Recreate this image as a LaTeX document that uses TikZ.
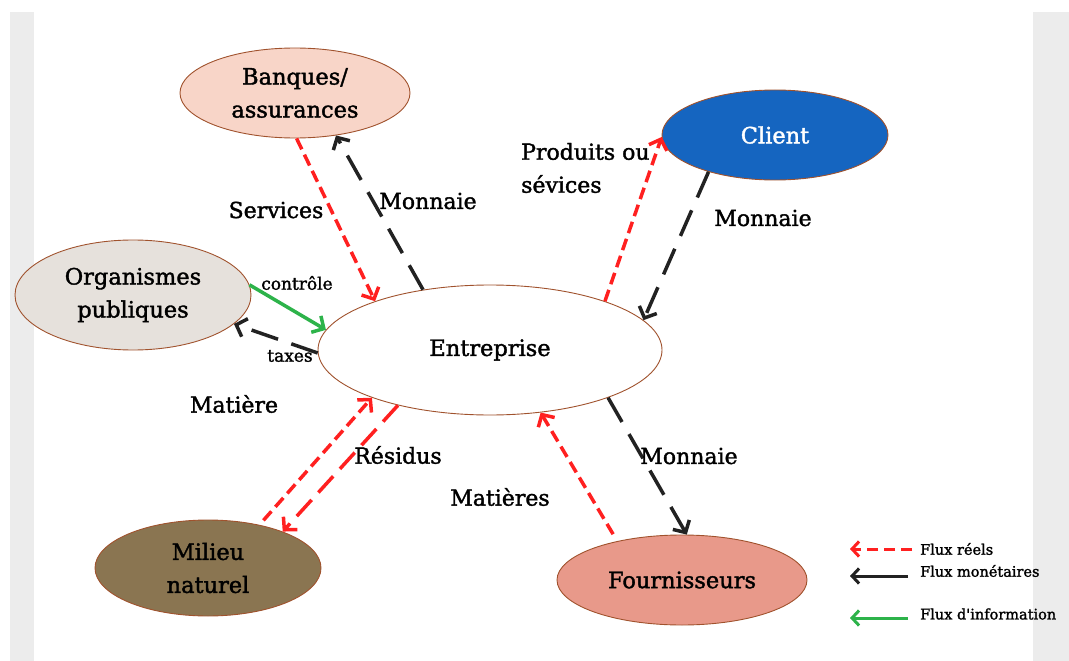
\documentclass[tikz,border=0pt]{standalone}
\usepackage{fontspec}
\setmainfont{DejaVu Serif}
\newfontfamily\slab{DejaVu Serif}[FakeBold=1.6]
\usetikzlibrary{arrows.meta,shapes.geometric}
\definecolor{stripgrey}{HTML}{ECECEC}
\definecolor{edgebrown}{HTML}{A0522D}
\definecolor{banfill}{HTML}{F8D5C8}
\definecolor{clientfill}{HTML}{1565C0}
\definecolor{orgfill}{HTML}{E6E1DC}
\definecolor{milfill}{HTML}{8A7551}
\definecolor{fourfill}{HTML}{E8998A}
\definecolor{flowred}{HTML}{FF2020}
\definecolor{flowblack}{HTML}{222222}
\definecolor{flowgreen}{HTML}{2DB34A}
\begin{document}
\begin{tikzpicture}[x=1pt,y=-1pt,
  ell/.style={ellipse, draw=edgebrown, line width=0.9pt, inner sep=0pt, align=center,
    font=\slab\fontsize{22.5}{33}\selectfont},
  tip/.style={-{Straight Barb[length=9pt,width=19pt]}},
  realflow/.style={tip, draw=flowred, line width=3.5pt, dash pattern=on 12pt off 6pt},
  realflowlong/.style={tip, draw=flowred, line width=3.5pt, dash pattern=on 22pt off 10pt},
  moneyflow/.style={tip, draw=flowblack, line width=3.5pt, dash pattern=on 28pt off 14pt},
  infoflow/.style={tip, draw=flowgreen, line width=3.5pt},
  lbl/.style={font=\slab\fontsize{22}{33}\selectfont, inner sep=0pt},
  small/.style={font=\slab\fontsize{17}{19}\selectfont, inner sep=0pt},
  legend/.style={font=\slab\fontsize{14.5}{17}\selectfont, inner sep=0pt, anchor=west},
  legtip/.style={-{Straight Barb[length=7pt,width=15pt]}, line width=3pt}
]
\useasboundingbox (0,0) rectangle (1069,661);
\fill[stripgrey] (10,12) rectangle (34,661);
\fill[stripgrey] (1033,12) rectangle (1069,661);

% nodes
\node[ell, fill=banfill, minimum width=230pt, minimum height=90pt] (ban) at (295,93) {Banques/\\assurances};
\node[ell, fill=clientfill, text=white, minimum width=226pt, minimum height=90pt] (cli) at (775,135) {Client};
\node[ell, fill=orgfill, minimum width=236pt, minimum height=110pt] (org) at (133,295) {Organismes\\publiques};
\node[ell, fill=white, minimum width=344pt, minimum height=130pt] (ent) at (490,350) {Entreprise};
\node[ell, fill=milfill, minimum width=226pt, minimum height=96pt] (mil) at (208,568) {Milieu\\naturel};
\node[ell, fill=fourfill, minimum width=250pt, minimum height=90pt] (four) at (682,580) {Fournisseurs};

% connectors
\draw[realflow] (ban.-88) -- (ent.157);
\draw[moneyflow] (ent.138) -- (ban.-46);
\draw[infoflow] (org.5) -- (ent.173);
\draw[moneyflow] (ent.181) -- (org.-16);
\draw[realflow, shorten <=6pt] (mil.40) -- (ent.202);
\draw[realflowlong] (ent.211) -- (mil.26);
\draw[realflow, shorten <=8pt] (four.149) -- (ent.309);
\draw[moneyflow] (ent.-22) -- (four.84);
\draw[realflow] (ent.23) -- (cli.181);
\draw[moneyflow] (cli.209) -- (ent.11);

% labels
\node[lbl] (lserv) at (276,210) {Services};
\node[lbl] (lmon1) at (428,201) {Monnaie};
\node[lbl, anchor=west, align=left] (lprod) at (521,168) {Produits ou\\sévices};
\node[lbl] (lmon2) at (763,218) {Monnaie};
\node[small] (lctrl) at (297,283) {contrôle};
\node[small] (ltax) at (290,356) {taxes};
\node[lbl] (lmat) at (234,404) {Matière};
\node[lbl] (lres) at (398,455) {Résidus};
\node[lbl] (lmats) at (500,497) {Matières};
\node[lbl] (lmon3) at (689,456) {Monnaie};

% legend
\node[legend] (leg1) at (920,549) {Flux réels};
\node[legend] (leg2) at (920,571) {Flux monétaires};
\node[legend] (leg3) at (920,614) {Flux d'information};
\coordinate (r1) at (912,549); \coordinate (r2) at (850,549);
\coordinate (b1) at (908,576); \coordinate (b2) at (850,576);
\coordinate (g1) at (908,618); \coordinate (g2) at (850,618);
\draw[legtip, draw=flowred, dash pattern=on 11pt off 6pt] (r1) -- (r2);
\draw[legtip, draw=flowblack] (b1) -- (b2);
\draw[legtip, draw=flowgreen] (g1) -- (g2);
\end{tikzpicture}
\end{document}
